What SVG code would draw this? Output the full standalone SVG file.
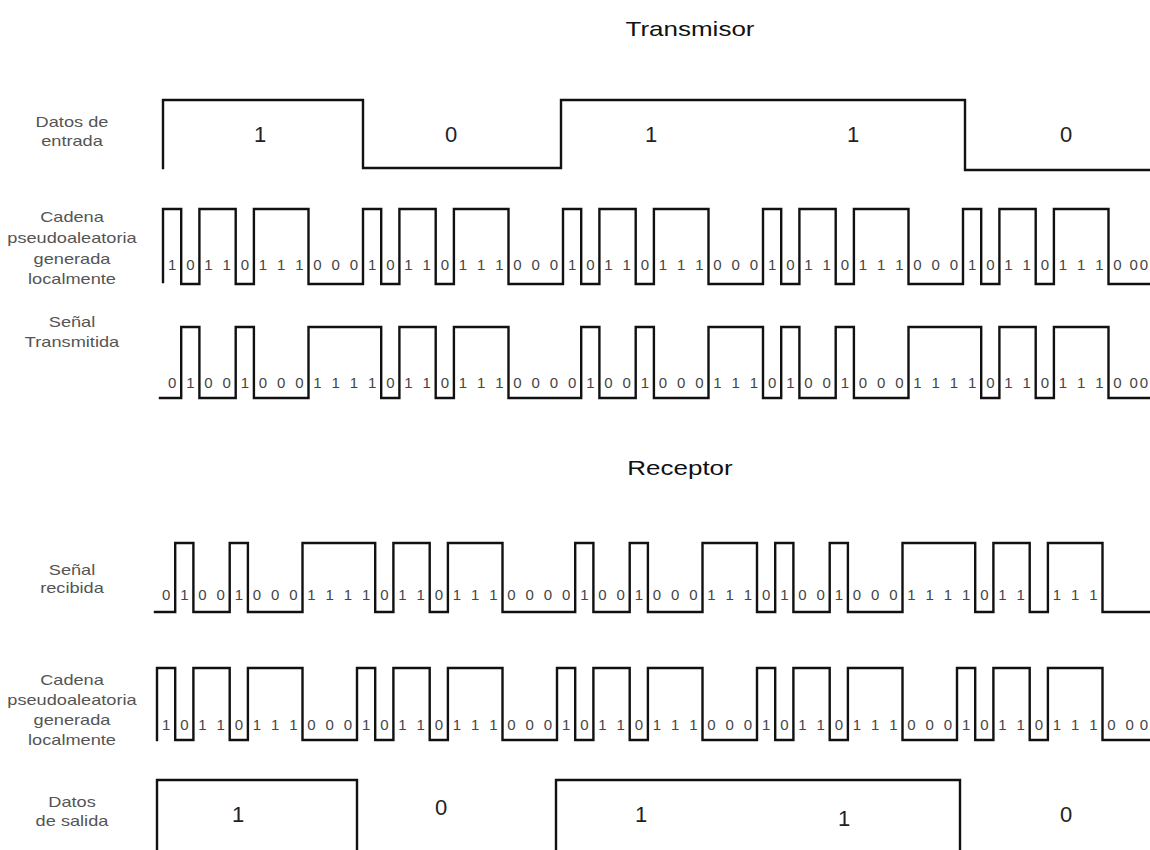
<svg xmlns="http://www.w3.org/2000/svg" width="1150" height="850" viewBox="0 0 1150 850">
<style>
.bg{fill:#ffffff}
.wave{fill:none;stroke:#111;stroke-width:2.4;stroke-linejoin:miter;stroke-linecap:square}
.title{font-family:"Liberation Sans",Arial,sans-serif;font-size:20px;fill:#111;text-anchor:middle}
.lbl{font-family:"Liberation Sans",Arial,sans-serif;font-size:14px;fill:#555;text-anchor:middle}
.big{font-family:"Liberation Sans",Arial,sans-serif;font-size:22px;fill:#222;text-anchor:middle}
.dig{font-family:"Liberation Sans",Arial,sans-serif;font-size:15px;fill:#444;text-anchor:middle}
</style>
<rect class="bg" x="0" y="0" width="1150" height="850"/>

<g id="titles">
<text class="title" transform="translate(690,36) scale(1.3,1)">Transmisor</text>
<text class="title" transform="translate(680,475) scale(1.3,1)">Receptor</text>
</g>

<g id="row-datos-entrada">
<text class="lbl" transform="translate(72,127) scale(1.3,1)">Datos de</text>
<text class="lbl" transform="translate(72,146) scale(1.3,1)">entrada</text>
<text class="big" x="260" y="142">1</text>
<text class="big" x="451" y="142">0</text>
<text class="big" x="651" y="142">1</text>
<text class="big" x="853" y="142">1</text>
<text class="big" x="1066" y="142">0</text>
</g>

<g id="row-cadena-tx">
<text class="lbl" transform="translate(72,222) scale(1.3,1)">Cadena</text>
<text class="lbl" transform="translate(72,243) scale(1.3,1)">pseudoaleatoria</text>
<text class="lbl" transform="translate(72,264) scale(1.3,1)">generada</text>
<text class="lbl" transform="translate(72,284) scale(1.3,1)">localmente</text>
<text class="dig" y="270" x="172.1 190.3 208.5 226.6 244.8 263 281.2 299.4 317.5 335.7 353.9 372.1 390.3 408.5 426.6 444.8 463 481.2 499.4 517.5 535.7 553.9 572.1 590.3 608.5 626.6 644.8 663 681.2 699.4 717.5 735.7 753.9 772.1 790.3 808.5 826.6 844.8 863 881.2 899.4 917.5 935.7 953.9 972.1 990.3 1008.5 1026.6 1044.8 1063 1081.2 1099.4 1117.5 1133.7 1144">1011011100010110111000101101110001011011100010110111000</text>
</g>

<g id="row-senal-tx">
<text class="lbl" transform="translate(72,327) scale(1.3,1)">Señal</text>
<text class="lbl" transform="translate(72,347) scale(1.3,1)">Transmitida</text>
<text class="dig" y="388" x="172.1 190.3 208.5 226.6 244.8 263 281.2 299.4 317.5 335.7 353.9 372.1 390.3 408.5 426.6 444.8 463 481.2 499.4 517.5 535.7 553.9 572.1 590.3 608.5 626.6 644.8 663 681.2 699.4 717.5 735.7 753.9 772.1 790.3 808.5 826.6 844.8 863 881.2 899.4 917.5 935.7 953.9 972.1 990.3 1008.5 1026.6 1044.8 1063 1081.2 1099.4 1117.5 1133.7 1144">0100100011110110111000010010001110100100011110110111000</text>
</g>

<g id="row-senal-rx">
<text class="lbl" transform="translate(72,575) scale(1.3,1)">Señal</text>
<text class="lbl" transform="translate(72,593) scale(1.3,1)">recibida</text>
<text class="dig" y="600" x="166.1 184.3 202.5 220.6 238.8 257 275.2 293.4 311.5 329.7 347.9 366.1 384.3 402.5 420.6 438.8 457 475.2 493.4 511.5 529.7 547.9 566.1 584.3 602.5 620.6 638.8 657 675.2 693.4 711.5 729.7 747.9 766.1 784.3 802.5 820.6 838.8 857 875.2 893.4 911.5 929.7 947.9 966.1 984.3 1002.5 1020.6">010010001111011011100001001000111010010001111011</text>
<text class="dig" y="600" x="1057 1075.2 1093.4">111</text>
</g>

<g id="row-cadena-rx">
<text class="lbl" transform="translate(72,685) scale(1.3,1)">Cadena</text>
<text class="lbl" transform="translate(72,705) scale(1.3,1)">pseudoaleatoria</text>
<text class="lbl" transform="translate(72,725) scale(1.3,1)">generada</text>
<text class="lbl" transform="translate(72,745) scale(1.3,1)">localmente</text>
<text class="dig" y="730" x="166.1 184.3 202.5 220.6 238.8 257 275.2 293.4 311.5 329.7 347.9 366.1 384.3 402.5 420.6 438.8 457 475.2 493.4 511.5 529.7 547.9 566.1 584.3 602.5 620.6 638.8 657 675.2 693.4 711.5 729.7 747.9 766.1 784.3 802.5 820.6 838.8 857 875.2 893.4 911.5 929.7 947.9 966.1 984.3 1002.5 1020.6 1038.8 1057 1075.2 1093.4 1111.5 1129.7 1144">1011011100010110111000101101110001011011100010110111000</text>
</g>

<g id="row-datos-salida">
<text class="lbl" transform="translate(72,807) scale(1.3,1)">Datos</text>
<text class="lbl" transform="translate(72,826) scale(1.3,1)">de salida</text>
<text class="big" x="238" y="822">1</text>
<text class="big" x="441" y="815">0</text>
<text class="big" x="641" y="822">1</text>
<text class="big" x="844" y="826">1</text>
<text class="big" x="1066" y="822">0</text>
</g>

<g id="connectors">
<path class="wave" d="M163,168 V100 H363 V168 H561 V100 H965 V170 H1150"/>
<path class="wave" d="M163,282 V209 H181.2 V284 H199.4 V209 H235.7 V284 H253.9 V209 H308.5 V284 H363 V209 H381.2 V284 H399.4 V209 H435.7 V284 H453.9 V209 H508.5 V284 H563 V209 H581.2 V284 H599.4 V209 H635.7 V284 H653.9 V209 H708.5 V284 H763 V209 H781.2 V284 H799.4 V209 H835.7 V284 H853.9 V209 H908.5 V284 H963 V209 H981.2 V284 H999.4 V209 H1035.7 V284 H1053.9 V209 H1108.5 V284 H1152"/>
<path class="wave" d="M160,398 H181.2 V327 H199.4 V398 H235.7 V327 H253.9 V398 H308.5 V327 H381.2 V398 H399.4 V327 H435.7 V398 H453.9 V327 H508.5 V398 H581.2 V327 H599.4 V398 H635.7 V327 H653.9 V398 H708.5 V327 H763 V398 H781.2 V327 H799.4 V398 H835.7 V327 H853.9 V398 H908.5 V327 H981.2 V398 H999.4 V327 H1035.7 V398 H1053.9 V327 H1108.5 V398 H1152"/>
<path class="wave" d="M155,612 H175.2 V543 H193.4 V612 H229.7 V543 H247.9 V612 H302.5 V543 H375.2 V612 H393.4 V543 H429.7 V612 H447.9 V543 H502.5 V612 H575.2 V543 H593.4 V612 H629.7 V543 H647.9 V612 H702.5 V543 H757 V612 H775.2 V543 H793.4 V612 H829.7 V543 H847.9 V612 H902.5 V543 H975.2 V612 H993.4 V543 H1029.7 V612 H1047.9 V543 H1102.5 V612 H1152"/>
<path class="wave" d="M157,740 V668 H175.2 V740 H193.4 V668 H229.7 V740 H247.9 V668 H302.5 V740 H357 V668 H375.2 V740 H393.4 V668 H429.7 V740 H447.9 V668 H502.5 V740 H557 V668 H575.2 V740 H593.4 V668 H629.7 V740 H647.9 V668 H702.5 V740 H757 V668 H775.2 V740 H793.4 V668 H829.7 V740 H847.9 V668 H902.5 V740 H957 V668 H975.2 V740 H993.4 V668 H1029.7 V740 H1047.9 V668 H1102.5 V740 H1152"/>
<path class="wave" d="M157,852 V780 H357 V852"/>
<path class="wave" d="M556,852 V780 H960 V852"/>
</g>
</svg>
